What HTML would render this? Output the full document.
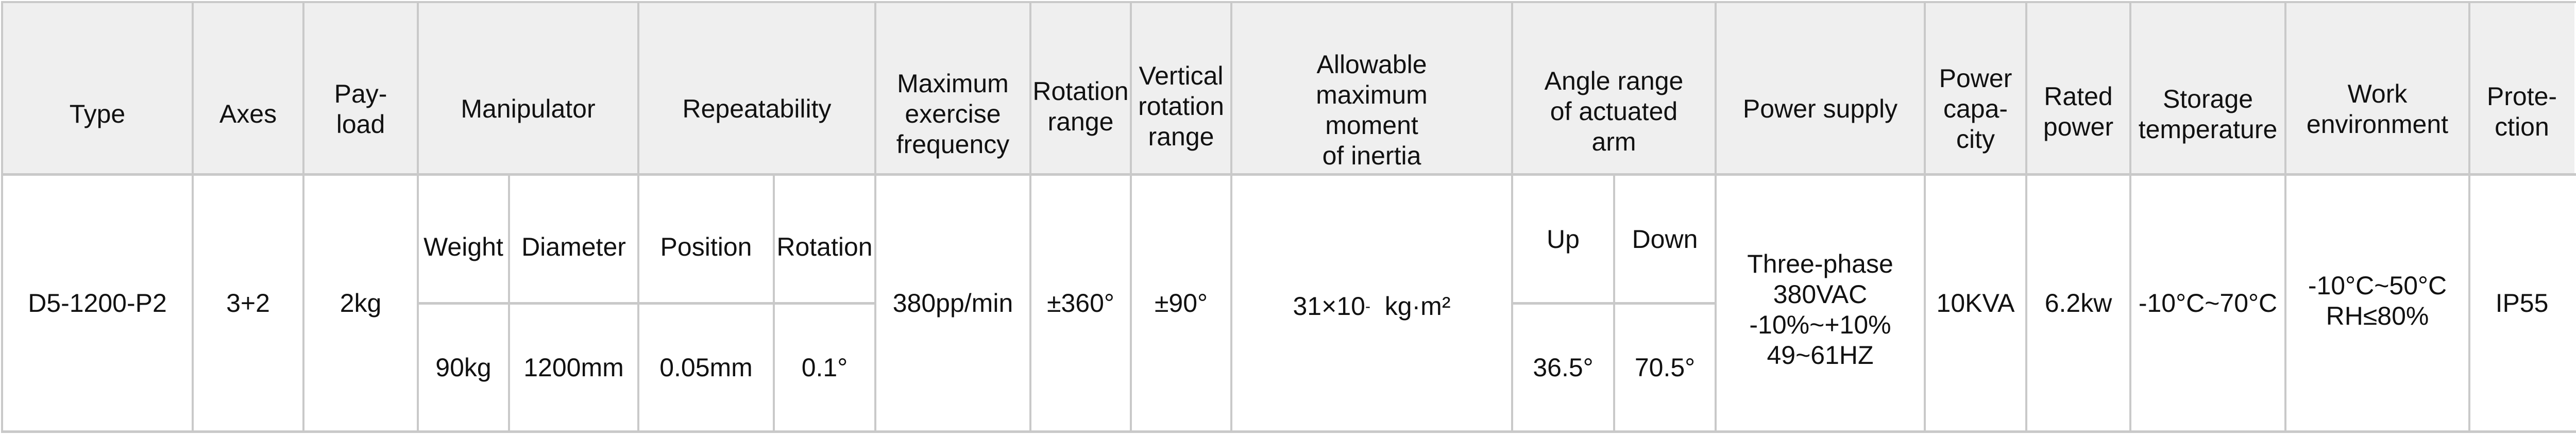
<!DOCTYPE html>
<html><head><meta charset="utf-8"><style>
body{margin:0;width:5009px;height:842px;background:#fff;overflow:hidden;position:relative;font-family:"Liberation Sans Narrow","Liberation Sans","Noto Sans CJK SC",sans-serif;color:#111}
.h{position:absolute;top:4px;height:335px;background:#efefef}
.c{position:absolute;display:flex;align-items:center;justify-content:center;text-align:center;font-size:50px;line-height:59px;box-sizing:border-box}
.ht{top:90px;height:249px;align-items:center;padding-bottom:0}
.l{position:absolute;background:#c9c9c9}
</style></head><body>
<div class="h" style="left:4px;width:4993px"></div>
<!-- header texts -->
<div class="c" style="left:4px;width:370px;top:4px;height:335px;padding-top:100px">Type</div>
<div class="c" style="left:374px;width:215px;top:4px;height:335px;padding-top:100px">Axes</div>
<div class="c" style="left:589px;width:222px;top:4px;height:335px;padding-top:80px">Pay-<br>load</div>
<div class="c" style="left:811px;width:428px;top:4px;height:335px;padding-top:80px">Manipulator</div>
<div class="c" style="left:1239px;width:460px;top:4px;height:335px;padding-top:80px">Repeatability</div>
<div class="c" style="left:1699px;width:301px;top:4px;height:335px;padding-top:100px">Maximum<br>exercise<br>frequency</div>
<div class="c" style="left:2000px;width:195px;top:4px;height:335px;padding-top:70px">Rotation<br>range</div>
<div class="c" style="left:2195px;width:195px;top:4px;height:335px;padding-top:70px">Vertical<br>rotation<br>range</div>
<div class="c" style="left:2390px;width:545px;top:4px;height:335px;padding-top:85px">Allowable<br>maximum<br>moment<br>of inertia</div>
<div class="c" style="left:2935px;width:395px;top:4px;height:335px;padding-top:90px">Angle range<br>of actuated<br>arm</div>
<div class="c" style="left:3330px;width:406px;top:4px;height:335px;padding-top:80px">Power supply</div>
<div class="c" style="left:3736px;width:197px;top:4px;height:335px;padding-top:80px">Power<br>capa-<br>city</div>
<div class="c" style="left:3933px;width:202px;top:4px;height:335px;padding-top:90px">Rated<br>power</div>
<div class="c" style="left:4135px;width:301px;top:4px;height:335px;padding-top:100px">Storage<br>temperature</div>
<div class="c" style="left:4436px;width:357px;top:4px;height:335px;padding-top:80px">Work<br>environment</div>
<div class="c" style="left:4793px;width:204px;top:4px;height:335px;padding-top:90px">Prote-<br>ction</div>
<!-- body -->
<div class="c" style="left:4px;width:370px;top:339px;height:499px">D5-1200-P2</div>
<div class="c" style="left:374px;width:215px;top:339px;height:499px">3+2</div>
<div class="c" style="left:589px;width:222px;top:339px;height:499px">2kg</div>
<div class="c" style="left:811px;width:177px;top:339px;height:250px;padding-top:30px">Weight</div>
<div class="c" style="left:988px;width:251px;top:339px;height:250px;padding-top:30px">Diameter</div>
<div class="c" style="left:1239px;width:263px;top:339px;height:250px;padding-top:30px">Position</div>
<div class="c" style="left:1502px;width:197px;top:339px;height:250px;padding-top:30px">Rotation</div>
<div class="c" style="left:811px;width:177px;top:589px;height:249px">90kg</div>
<div class="c" style="left:988px;width:251px;top:589px;height:249px">1200mm</div>
<div class="c" style="left:1239px;width:263px;top:589px;height:249px">0.05mm</div>
<div class="c" style="left:1502px;width:197px;top:589px;height:249px">0.1°</div>
<div class="c" style="left:1699px;width:301px;top:339px;height:499px">380pp/min</div>
<div class="c" style="left:2000px;width:195px;top:339px;height:499px">±360°</div>
<div class="c" style="left:2195px;width:195px;top:339px;height:499px">±90°</div>
<div class="c" style="left:2390px;width:545px;top:339px;height:499px;padding-top:12px">31×10<sup style="font-size:30px">-</sup>&nbsp; kg·m²</div>
<div class="c" style="left:2935px;width:198px;top:339px;height:250px">Up</div>
<div class="c" style="left:3133px;width:197px;top:339px;height:250px">Down</div>
<div class="c" style="left:2935px;width:198px;top:589px;height:249px">36.5°</div>
<div class="c" style="left:3133px;width:197px;top:589px;height:249px">70.5°</div>
<div class="c" style="left:3330px;width:406px;top:339px;height:499px;padding-top:24px">Three-phase<br>380VAC<br>-10%~+10%<br>49~61HZ</div>
<div class="c" style="left:3736px;width:197px;top:339px;height:499px">10KVA</div>
<div class="c" style="left:3933px;width:202px;top:339px;height:499px">6.2kw</div>
<div class="c" style="left:4135px;width:301px;top:339px;height:499px">-10°C~70°C</div>
<div class="c" style="left:4436px;width:357px;top:339px;height:499px;padding-bottom:10px">-10°C~50°C<br>RH≤80%</div>
<div class="c" style="left:4793px;width:204px;top:339px;height:499px">IP55</div>
<!-- horizontal lines -->
<div class="l" style="left:2px;top:2px;width:5007px;height:4px"></div>
<div class="l" style="left:2px;top:336px;width:5007px;height:5px"></div>
<div class="l" style="left:2px;top:835px;width:5007px;height:5px"></div>
<div class="l" style="left:811px;top:586px;width:888px;height:5px"></div>
<div class="l" style="left:2935px;top:586px;width:395px;height:5px"></div>
<!-- vertical lines -->
<div class="l" style="left:2px;top:2px;width:4px;height:838px"></div>
<div class="l" style="left:372px;top:2px;width:4px;height:838px"></div>
<div class="l" style="left:587px;top:2px;width:4px;height:838px"></div>
<div class="l" style="left:809px;top:2px;width:4px;height:838px"></div>
<div class="l" style="left:1237px;top:2px;width:4px;height:838px"></div>
<div class="l" style="left:1697px;top:2px;width:4px;height:838px"></div>
<div class="l" style="left:1998px;top:2px;width:4px;height:838px"></div>
<div class="l" style="left:2193px;top:2px;width:4px;height:838px"></div>
<div class="l" style="left:2388px;top:2px;width:4px;height:838px"></div>
<div class="l" style="left:2933px;top:2px;width:4px;height:838px"></div>
<div class="l" style="left:3328px;top:2px;width:4px;height:838px"></div>
<div class="l" style="left:3734px;top:2px;width:4px;height:838px"></div>
<div class="l" style="left:3931px;top:2px;width:4px;height:838px"></div>
<div class="l" style="left:4133px;top:2px;width:4px;height:838px"></div>
<div class="l" style="left:4434px;top:2px;width:4px;height:838px"></div>
<div class="l" style="left:4791px;top:2px;width:4px;height:838px"></div>
<div class="l" style="left:986px;top:339px;width:4px;height:499px"></div>
<div class="l" style="left:1500px;top:339px;width:4px;height:499px"></div>
<div class="l" style="left:3131px;top:339px;width:4px;height:499px"></div>
</body></html>
